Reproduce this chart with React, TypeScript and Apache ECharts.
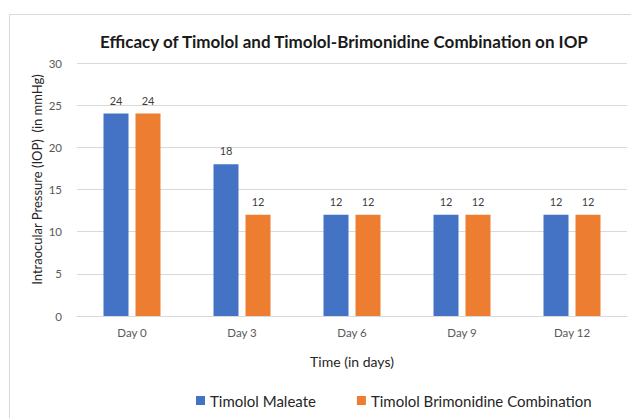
import React, { useEffect, useRef } from "react";
import * as echarts from "echarts";

const categories = ["Day 0", "Day 3", "Day 6", "Day 9", "Day 12"];
const timololMaleate = [24, 18, 12, 12, 12];
const timololBrimonidine = [24, 12, 12, 12, 12];
const seriesNames = ["Timolol Maleate", "Timolol Brimonidine Combination"];
const yTicks = { min: 0, max: 30, interval: 5 };

const FONT = "Lato, 'Open Sans', sans-serif";

export default function App() {
  const ref = useRef<HTMLDivElement>(null);
  useEffect(() => {
    if (!ref.current) return;
    const chart = echarts.init(ref.current, undefined, { renderer: "svg" });
    const label = {
      show: true,
      position: "top" as const,
      distance: 8,
      color: "#404040",
      fontSize: 11,
      fontFamily: FONT,
    };
    chart.setOption({
      animation: false,
      backgroundColor: "#ffffff",
      textStyle: { fontFamily: FONT },
      title: {
        text: "Efficacy of Timolol and Timolol-Brimonidine Combination on IOP",
        left: 339,
        textAlign: "center",
        top: 28,
        textStyle: { fontSize: 17, fontWeight: "bold", color: "#1a1a1a", fontFamily: FONT },
      },
      graphic: [
        {
          type: "rect",
          shape: { x: 9.5, y: 14.5, width: 640, height: 420 },
          style: { fill: "none", stroke: "#d9d9d9", lineWidth: 1 },
          silent: true,
        },
      ],
      legend: {
        bottom: 5,
        left: 191,
        itemWidth: 9,
        itemHeight: 9,
        itemGap: 41,
        icon: "rect",
        textStyle: { color: "#262626", fontSize: 15, fontFamily: FONT },
        data: seriesNames,
      },
      grid: { left: 77, right: 4, top: 63, bottom: 102 },
      xAxis: {
        type: "category",
        data: categories,
        name: "Time (in days)",
        nameLocation: "middle",
        nameGap: 38,
        nameMoveOverlap: false,
        nameTextStyle: { fontSize: 14, color: "#262626", fontFamily: FONT },
        axisLine: { lineStyle: { color: "#d9d9d9" } },
        axisTick: { show: false },
        axisLabel: { color: "#595959", fontSize: 11.5, margin: 10, fontFamily: FONT },
      },
      yAxis: {
        type: "value",
        min: yTicks.min,
        max: yTicks.max,
        interval: yTicks.interval,
        name: "Intraocular Pressure (IOP)  (in mmHg)",
        nameLocation: "middle",
        nameGap: 34,
        nameMoveOverlap: false,
        nameTextStyle: { fontSize: 13, color: "#262626", fontFamily: FONT, padding: [0, 0, 0, 20] },
        axisLine: { show: false },
        axisTick: { show: false },
        axisLabel: { color: "#595959", fontSize: 11.5, margin: 15, fontFamily: FONT },
        splitLine: { lineStyle: { color: "#d9d9d9" } },
      },
      series: [
        {
          name: seriesNames[0],
          type: "bar",
          data: timololMaleate,
          barWidth: 25,
          barGap: "28%",
          itemStyle: { color: "#4472c4" },
          label,
        },
        {
          name: seriesNames[1],
          type: "bar",
          data: timololBrimonidine,
          barWidth: 25,
          barGap: "28%",
          itemStyle: { color: "#ed7d31" },
          label,
        },
      ],
    });
    return () => chart.dispose();
  }, []);
  return <div ref={ref} style={{ width: 631, height: 418, position: "absolute", left: 0, top: 0 }} />;
}
